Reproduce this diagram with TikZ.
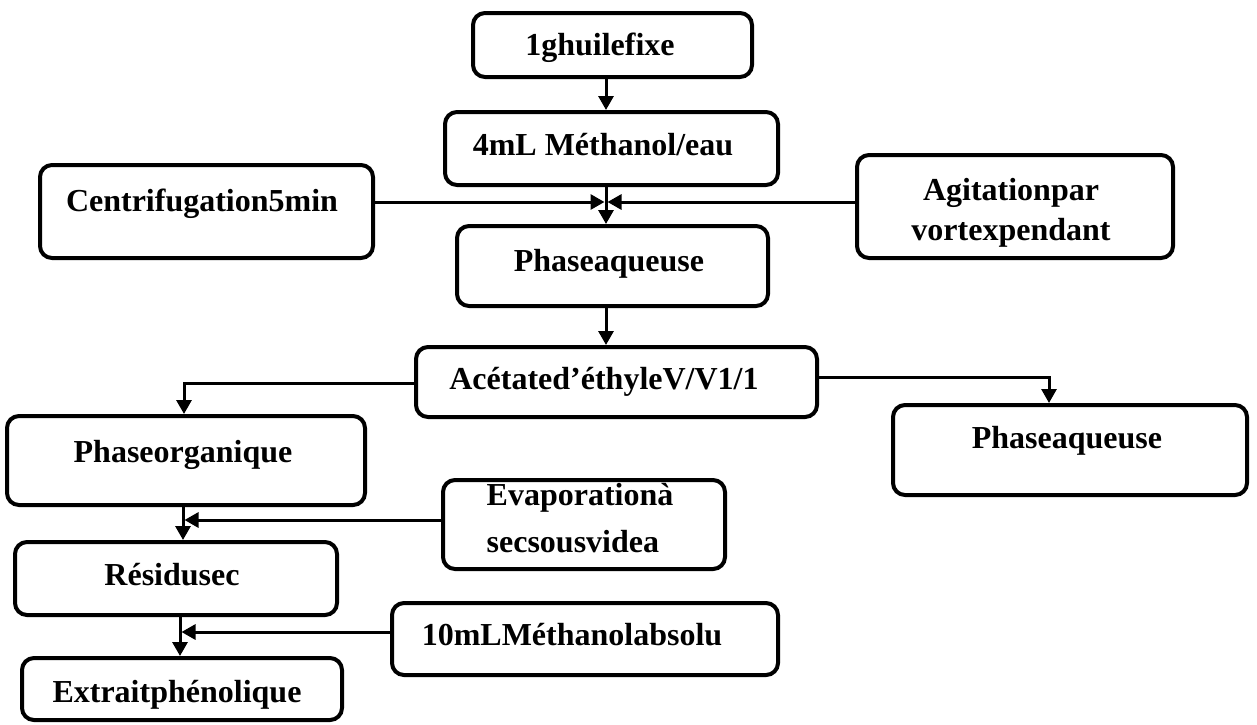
\documentclass[tikz,border=0pt]{standalone}
\usepackage{fontspec}
\setmainfont{Liberation Serif}
\usetikzlibrary{arrows.meta}
\newcommand{\tx}[3]{\raisebox{#2}[0pt][0pt]{\makebox[0pt]{\hspace*{#1}#3}}}
\newcommand{\txx}[5]{\raisebox{#2}[0pt][0pt]{\makebox[0pt]{\hspace*{#1}\fontsize{16}{#3}\selectfont\begin{tabular}[b]{@{}#4@{}}#5\end{tabular}}}}
\begin{document}
\begin{tikzpicture}[x=0.5pt,y=-0.5pt,
  box/.style={draw, line width=2pt, rounded corners=6pt, inner sep=0pt,
    font=\fontsize{16}{19}\selectfont\bfseries},
  sz/.style 2 args={minimum width=#1*0.5pt, minimum height=#2*0.5pt},
  arr/.style={line width=1.5pt, -{Triangle[width=7.5pt,length=7pt]}}]
\useasboundingbox (0,0) rectangle (1257,724);

\node[box, sz={279}{64}]  (b1)   at (612.5,45)   {\tx{-12.5pt}{-5pt}{1ghuilefixe}};
\node[box, sz={333}{73}]  (b2)   at (611.5,148.5){\tx{-8.5pt}{-3.25pt}{4mL Méthanol/eau}};
\node[box, sz={333}{93}]  (cen)  at (206.5,211.5){\tx{-4.5pt}{0pt}{Centrifugation5min}};
\node[box, sz={316}{103}] (agi)  at (1015,206.5) {\txx{-4pt}{-16.75pt}{20pt}{c}{Agitationpar\\vortexpendant}};
\node[box, sz={311}{80}]  (b3)   at (612.5,266)  {\tx{-3.5pt}{-2.5pt}{Phaseaqueuse}};
\node[box, sz={401}{70}]  (ace)  at (616.5,382)  {\tx{-12.5pt}{-3.5pt}{Acétated’éthyleV/V1/1}};
\node[box, sz={358}{89}]  (porg) at (186,460.5)  {\tx{-3pt}{-0.75pt}{Phaseorganique}};
\node[box, sz={354}{90}]  (paq)  at (1070,450)   {\tx{-3pt}{1pt}{Phaseaqueuse}};
\node[box, sz={282}{89}]  (evap) at (584,524.5)  {\txx{-4pt}{-13.75pt}{23.5pt}{l}{Evaporationà\\secsousvidea}};
\node[box, sz={322}{73}]  (res)  at (176,578.5)  {\tx{-4pt}{-3.25pt}{Résidusec}};
\node[box, sz={386}{72}]  (meth) at (585,639)    {\tx{-13pt}{-3pt}{10mLMéthanolabsolu}};
\node[box, sz={320}{62}]  (ext)  at (182,689)    {\tx{-5pt}{-6.5pt}{Extraitphénolique}};

\coordinate (j1) at (606,202);
\coordinate (j2) at (183,520);
\coordinate (j3) at (180,632);

\draw[arr] ([xshift=-3.25pt]b1.south) -- ([xshift=-3.25pt]b1.south |- b2.north);
\draw[arr] ([xshift=-2.75pt]b2.south) -- ([xshift=-2.75pt]b2.south |- b3.north);
\draw[arr] (cen.east |- j1) -- ([xshift=-0.75pt]j1);
\draw[arr] (agi.west |- j1) -- ([xshift=0.75pt]j1);
\draw[arr] ([xshift=-3.25pt]b3.south) -- ([xshift=-3.25pt]b3.south |- ace.north);
\draw[arr] ([yshift=-0.5pt]ace.west) -| ([xshift=-1pt]porg.north);
\draw[arr] ([yshift=2.5pt]ace.east) -| ([xshift=-10.5pt]paq.north);
\draw[arr] ([xshift=-1.5pt]porg.south) -- ([xshift=-1.5pt]porg.south |- res.north);
\draw[arr] (evap.west |- j2) -- ([xshift=0.75pt]j2);
\draw[arr] ([xshift=2pt]res.south) -- ([xshift=2pt]res.south |- ext.north);
\draw[arr] (meth.west |- j3) -- ([xshift=0.75pt]j3);
\end{tikzpicture}
\end{document}
